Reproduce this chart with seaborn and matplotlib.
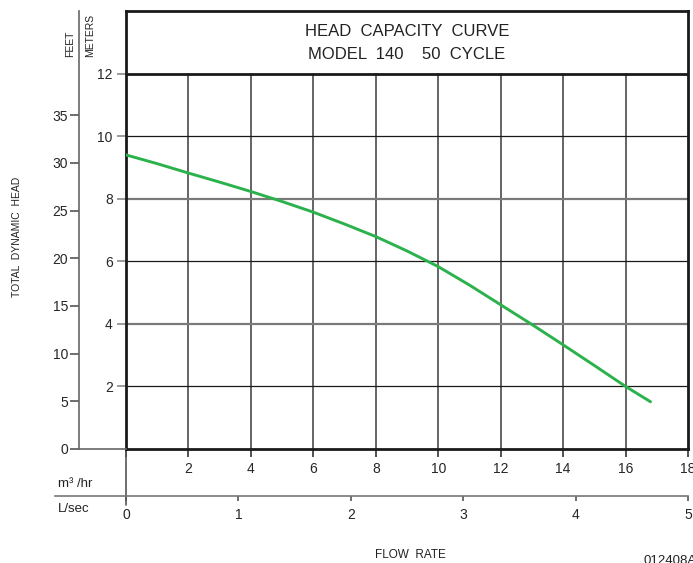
import numpy as np
import pandas as pd
import seaborn as sns
import matplotlib.pyplot as plt

# head capacity readings, model 140 at 50 cycle
flow_m3hr = [0, 1, 2, 3, 4, 5, 6, 7, 8, 9, 10, 11, 12, 13, 14, 15, 16, 16.8]
head_m = [9.40, 9.12, 8.82, 8.53, 8.23, 7.91, 7.57, 7.19, 6.79, 6.33,
          5.83, 5.24, 4.61, 3.98, 3.33, 2.67, 2.00, 1.51]

m3hr_ticks = [0, 2, 4, 6, 8, 10, 12, 14, 16, 18]
meter_ticks = [2, 4, 6, 8, 10, 12]
feet_ticks = [0, 5, 10, 15, 20, 25, 30, 35]
lsec_ticks = [0, 1, 2, 3, 4, 5]

FT_PER_M = 3.28084

sns.set_style("white")
plt.rcParams["font.family"] = ["Liberation Sans", "DejaVu Sans"]

W, H = 693, 563
fig = plt.figure(figsize=(W / 100, H / 100), dpi=100)

def fx(px):
    return px / W

def fy(py):
    return 1 - py / H

# main grid: x 126..688 px, y 449 (0 m)..11 (14 m)
ax = fig.add_axes([fx(126), fy(449), fx(688) - fx(126), fy(11) - fy(449)])
ax.set_xlim(0, 18)
ax.set_ylim(0, 14)

df = pd.DataFrame({"flow": flow_m3hr, "head": head_m})
sns.lineplot(data=df, x="flow", y="head", ax=ax, color="#2bb24c", linewidth=2.1, zorder=5)
ax.set_xlabel("")
ax.set_ylabel("")

for x in m3hr_ticks[1:-1]:
    ax.axvline(x, ymin=0, ymax=12 / 14, color="#4a4a4a", lw=1.2, zorder=2)
for y in meter_ticks[:-1]:
    if y % 4 == 0:
        ax.axhline(y, color="#7a7a7a", lw=1.6, zorder=2)
    else:
        ax.axhline(y, color="#1a1a1a", lw=0.9, zorder=2)
ax.axhline(12, color="#1a1a1a", lw=2.0, zorder=3)

for side in ["left", "right", "top", "bottom"]:
    ax.spines[side].set_color("#1a1a1a")
    ax.spines[side].set_linewidth(2.0)

ax.set_xticks(m3hr_ticks)
ax.set_xticklabels([""] + [str(v) for v in m3hr_ticks[1:]])
ax.set_yticks(meter_ticks)
ax.set_yticklabels([str(v) for v in meter_ticks])
ax.tick_params(axis="x", direction="out", length=6, width=1.2, color="#333333",
               pad=3.5, labelsize=10, bottom=True)
ax.tick_params(axis="y", direction="out", length=6.5, width=1.2, color="#8a8a8a",
               pad=3, labelsize=10, left=True)

# zero line of flow runs down to the L/sec scale
ax.axvline(0, ymin=-56 / 438, ymax=0, color="#555555", lw=1.2, clip_on=False)

ax.text(9, 13.33, "HEAD  CAPACITY  CURVE", ha="center", va="center", fontsize=12, color="#222222")
ax.text(9, 12.62, "MODEL  140    50  CYCLE", ha="center", va="center", fontsize=12, color="#222222")

# feet scale
axf = fig.add_axes([fx(79), fy(449), fx(126) - fx(79), fy(11) - fy(449)])
axf.patch.set_alpha(0)
axf.set_ylim(0, 14 * FT_PER_M)
axf.set_xlim(0, 1)
axf.set_yticks(feet_ticks)
axf.set_yticklabels([str(v) for v in feet_ticks])
axf.set_xticks([])
for side in ["right", "top"]:
    axf.spines[side].set_visible(False)
for side in ["left", "bottom"]:
    axf.spines[side].set_color("#666666")
    axf.spines[side].set_linewidth(1.2)
axf.tick_params(axis="y", direction="out", length=6.5, width=1.2, color="#555555",
                pad=1.5, labelsize=10, left=True)

# L/sec scale
lsec_left = -(126 - 55) / (562 / 5)
axl = fig.add_axes([fx(55), fy(496), fx(688) - fx(55), 0.0001])
axl.patch.set_alpha(0)
axl.set_xlim(lsec_left, 5)
axl.set_xticks(lsec_ticks)
axl.set_xticklabels([str(v) for v in lsec_ticks])
axl.set_yticks([])
for side in ["left", "right", "top"]:
    axl.spines[side].set_visible(False)
axl.spines["bottom"].set_color("#777777")
axl.spines["bottom"].set_linewidth(1.2)
axl.tick_params(axis="x", direction="out", length=3.5, width=1.2, color="#555555",
                pad=5, labelsize=10, bottom=True)

fig.text(fx(58), fy(484), "m³ /hr", ha="left", va="center", fontsize=9.5, color="#222222")
fig.text(fx(58), fy(509), "L/sec", ha="left", va="center", fontsize=9.5, color="#222222")
fig.text(fx(17), fy(237), "TOTAL  DYNAMIC  HEAD", rotation=90, ha="center", va="center",
         fontsize=7.5, color="#222222")
fig.text(fx(70), fy(57), "FEET", rotation=90, ha="center", va="bottom", fontsize=7.5, color="#222222")
fig.text(fx(90), fy(57), "METERS", rotation=90, ha="center", va="bottom", fontsize=7.5, color="#222222")
fig.text(fx(410), fy(555), "FLOW  RATE", ha="center", va="center", fontsize=8.5, color="#222222")
fig.text(fx(643), fy(555.5), "012408A", ha="left", va="top", fontsize=9.5, color="#222222")

fig.savefig("out.png", dpi=100)
